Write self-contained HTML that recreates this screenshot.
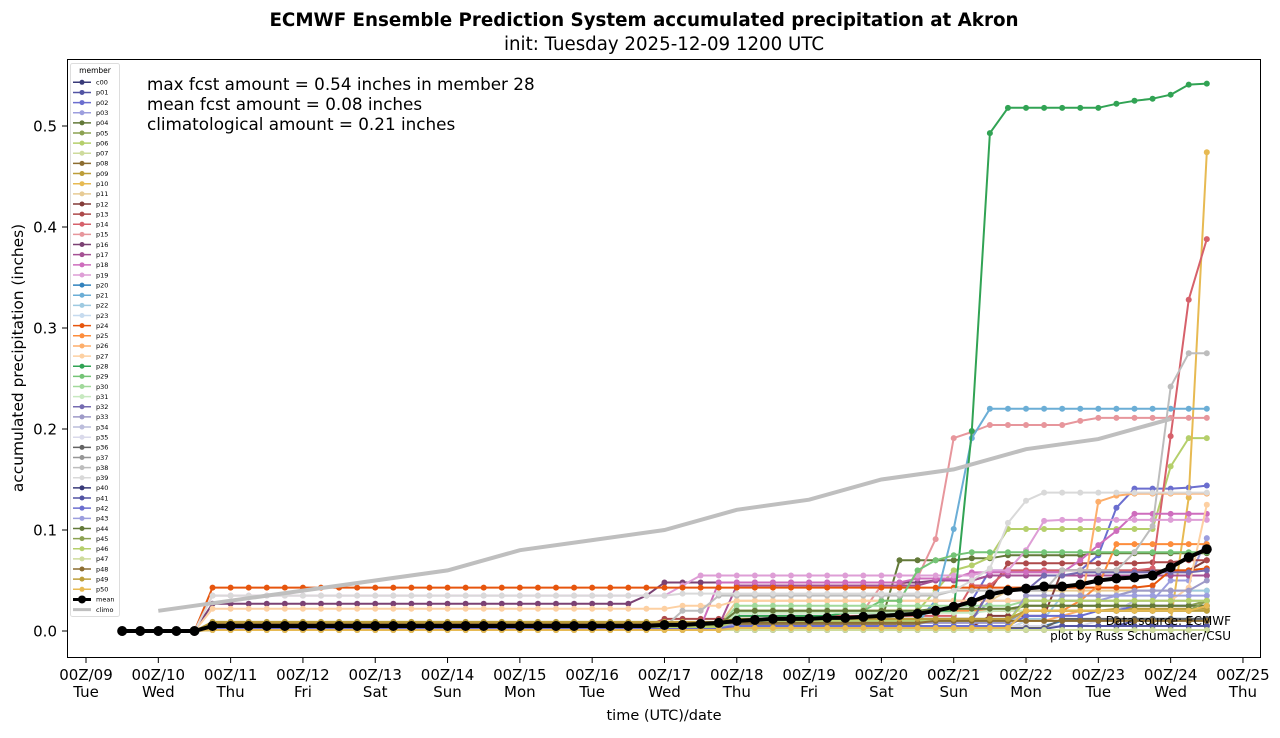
<!DOCTYPE html>
<html><head><meta charset="utf-8"><style>
body{margin:0;background:#fff;font-family:"Liberation Sans","DejaVu Sans",sans-serif;}
svg text{font-family:"DejaVu Sans","Liberation Sans",sans-serif;}
</style></head><body>
<svg id="chart" width="1280" height="733" xmlns="http://www.w3.org/2000/svg">
<rect width="1280" height="733" fill="#fff"/>
<text x="644" y="26" text-anchor="middle" font-size="18.3" font-weight="bold">ECMWF Ensemble Prediction System accumulated precipitation at Akron</text>
<text x="664" y="50" text-anchor="middle" font-size="18.2">init: Tuesday 2025-12-09 1200 UTC</text>
<text transform="translate(23,358) rotate(-90)" text-anchor="middle" font-size="15.4">accumulated precipitation (inches)</text>
<text x="664" y="720" text-anchor="middle" font-size="14.5">time (UTC)/date</text>
<g id="axes"></g>
<g id="plot"></g>
<rect x="67.5" y="59.5" width="1193" height="598" fill="none" stroke="#000" stroke-width="1"/>
<text x="147" y="90" font-size="16.8">max fcst amount = 0.54 inches in member 28</text>
<text x="147" y="110" font-size="16.8">mean fcst amount = 0.08 inches</text>
<text x="147" y="130" font-size="16.8">climatological amount = 0.21 inches</text>
<text x="1231" y="625" text-anchor="end" font-size="12">Data source: ECMWF</text>
<text x="1231" y="640" text-anchor="end" font-size="12">plot by Russ Schumacher/CSU</text>
<g id="legend"></g>
</svg>
<script>
const memberNames=["c00","p01","p02","p03","p04","p05","p06","p07","p08","p09","p10","p11","p12","p13","p14","p15","p16","p17","p18","p19","p20","p21","p22","p23","p24","p25","p26","p27","p28","p29","p30","p31","p32","p33","p34","p35","p36","p37","p38","p39","p40","p41","p42","p43","p44","p45","p46","p47","p48","p49","p50"];
const memberColors=["#393b79","#5254a3","#6b6ecf","#9c9ede","#637939","#8ca252","#b5cf6b","#cedb9c","#8c6d31","#bd9e39","#e7ba52","#e7cb94","#843c39","#ad494a","#d6616b","#e7969c","#7b4173","#a55194","#ce6dbd","#de9ed6","#3182bd","#6baed6","#9ecae1","#c6dbef","#e6550d","#fd8d3c","#fdae6b","#fdd0a2","#31a354","#74c476","#a1d99b","#c7e9c0","#756bb1","#9e9ac8","#bcbddc","#dadaeb","#636363","#969696","#bdbdbd","#d9d9d9","#393b79","#5254a3","#6b6ecf","#9c9ede","#637939","#8ca252","#b5cf6b","#cedb9c","#8c6d31","#bd9e39","#e7ba52"];
// change points [stepIndex, value]; value holds until next change
const memberChanges=[
[[5,0.003],[34,0.004],[46,0.005]],
[[5,0.002],[48,0.005],[56,0.01]],
[[5,0.004],[34,0.01],[45,0.03],[48,0.06],[54,0.075],[55,0.122],[56,0.141],[59,0.142],[60,0.144]],
[[5,0.002],[34,0.012],[48,0.03],[58,0.05],[60,0.092]],
[[5,0.006],[34,0.01],[43,0.07],[47,0.072],[49,0.075],[54,0.077]],
[[5,0.004],[34,0.02],[50,0.025],[60,0.03]],
[[5,0.005],[34,0.02],[45,0.04],[46,0.06],[47,0.065],[48,0.073],[49,0.101],[58,0.163],[59,0.191]],
[[5,0.001]],
[[5,0.007],[45,0.01],[50,0.02]],
[[5,0.008],[34,0.01],[50,0.02],[55,0.022]],
[[5,0.001],[34,0.002],[50,0.01],[59,0.132],[60,0.474]],
[[5,0.005],[34,0.03],[49,0.04]],
[[5,0.004],[48,0.015],[52,0.06],[60,0.07]],
[[5,0.005],[30,0.012],[48,0.04],[49,0.067],[57,0.068],[59,0.07]],
[[5,0.004],[34,0.015],[47,0.045],[49,0.06],[57,0.062],[58,0.193],[59,0.328],[60,0.388]],
[[5,0.004],[34,0.02],[42,0.045],[44,0.053],[45,0.091],[46,0.191],[47,0.197],[48,0.204],[53,0.208],[54,0.211]],
[[5,0.027],[29,0.035],[30,0.048],[45,0.05],[48,0.055]],
[[5,0.005],[34,0.045],[45,0.05],[48,0.055]],
[[5,0.004],[33,0.048],[44,0.052],[47,0.058],[53,0.07],[54,0.085],[55,0.099],[56,0.116]],
[[5,0.035],[31,0.045],[32,0.055],[48,0.06],[50,0.08],[51,0.109],[52,0.11]],
[[5,0.003],[34,0.005],[52,0.01],[56,0.012]],
[[5,0.003],[34,0.008],[45,0.03],[46,0.101],[47,0.191],[48,0.22]],
[[5,0.004],[34,0.012],[52,0.035],[56,0.04]],
[[5,0.002],[50,0.01]],
[[5,0.043],[57,0.045],[58,0.06],[60,0.062]],
[[5,0.003],[34,0.02],[53,0.03],[54,0.045],[55,0.086]],
[[5,0.002],[34,0.01],[52,0.015],[53,0.02],[54,0.128],[55,0.134],[56,0.136]],
[[5,0.022],[31,0.025],[34,0.03],[59,0.043],[60,0.125]],
[[5,0.004],[34,0.015],[40,0.018],[46,0.02],[47,0.198],[48,0.493],[49,0.518],[55,0.522],[56,0.525],[57,0.527],[58,0.531],[59,0.541],[60,0.542]],
[[5,0.003],[34,0.02],[42,0.03],[44,0.06],[45,0.07],[46,0.075],[47,0.078]],
[[5,0.004],[34,0.025],[50,0.03]],
[[5,0.002],[34,0.018],[48,0.02]],
[[5,0.004],[34,0.01],[48,0.04],[51,0.055],[53,0.058],[60,0.06]],
[[5,0.003],[34,0.008],[50,0.035],[56,0.04],[60,0.05]],
[[5,0.003],[34,0.005],[50,0.02],[56,0.03]],
[[5,0.002],[34,0.005],[54,0.01]],
[[5,0.003],[52,0.012]],
[[5,0.004],[34,0.01],[50,0.02],[60,0.025]],
[[5,0.004],[31,0.02],[33,0.035],[46,0.04],[52,0.06],[56,0.078],[57,0.104],[58,0.242],[59,0.275]],
[[5,0.035],[31,0.037],[46,0.04],[47,0.05],[48,0.062],[49,0.107],[50,0.129],[51,0.137]],
[[5,0.001]],
[[5,0.002],[52,0.005]],
[[5,0.003],[34,0.005],[50,0.015],[54,0.02],[56,0.025]],
[[5,0.004],[34,0.01],[50,0.03],[55,0.035]],
[[5,0.006],[34,0.02],[45,0.022],[50,0.025]],
[[5,0.005],[34,0.012],[50,0.02],[60,0.03]],
[[5,0.004],[34,0.01],[50,0.03]],
[[5,0.001]],
[[5,0.008],[45,0.01]],
[[5,0.009],[34,0.012],[50,0.02]],
[[5,0.001],[34,0.003],[50,0.02],[60,0.025]]
];
const meanValues=[0,0,0,0,0,0.005,0.005,0.005,0.005,0.005,0.005,0.005,0.005,0.005,0.005,0.005,0.005,0.005,0.005,0.005,0.005,0.005,0.005,0.005,0.005,0.005,0.005,0.005,0.005,0.005,0.006,0.006,0.007,0.008,0.010,0.011,0.012,0.012,0.012,0.013,0.013,0.014,0.015,0.016,0.017,0.020,0.024,0.029,0.036,0.040,0.042,0.044,0.044,0.046,0.050,0.052,0.053,0.055,0.063,0.073,0.081];
const climoDays=[10,11,12,13,14,15,16,17,18,19,20,21,22,23,24];
const climoValues=[0.02,0.03,0.04,0.05,0.06,0.08,0.09,0.10,0.12,0.13,0.15,0.16,0.18,0.19,0.21];
const xTickDays=[9,10,11,12,13,14,15,16,17,18,19,20,21,22,23,24,25];
const xTickWeekdays=["Tue","Wed","Thu","Fri","Sat","Sun","Mon","Tue","Wed","Thu","Fri","Sat","Sun","Mon","Tue","Wed","Thu"];
const yTicks=[0.0,0.1,0.2,0.3,0.4,0.5];
const nSteps=61;

const NS="http://www.w3.org/2000/svg";
const xDay=d=>86+(d-9)*72.31;            // day number (00Z) -> px
const xStep=i=>xDay(9.5+i*0.25);          // 6h step from 12Z/09
const yVal=v=>631-v*1010;
function mk(tag,attrs,parent){const e=document.createElementNS(NS,tag);for(const k in attrs)e.setAttribute(k,attrs[k]);parent.appendChild(e);return e;}
const axes=document.getElementById('axes'),plot=document.getElementById('plot'),leg=document.getElementById('legend');

xTickDays.forEach((d,k)=>{const x=xDay(d);
 const t=mk('line',{x1:x,x2:x,y1:658,y2:663,stroke:'#000'},axes);
 
 
 const l=mk('text',{x:x,y:680,'text-anchor':'middle','font-size':'15'},axes);
 
 
 l.textContent='00Z/'+String(d).padStart(2,'0');
 const w=mk('text',{x:x,y:697,'text-anchor':'middle','font-size':'15'},axes);
 
 
 w.textContent=xTickWeekdays[k];});
yTicks.forEach(v=>{const y=yVal(v);
 const t=mk('line',{x1:62,x2:67,y1:y,y2:y,stroke:'#000'},axes);
 
 
 const l=mk('text',{x:57,y:y+5.5,'text-anchor':'end','font-size':'15'},axes);
 
 
 l.textContent=v.toFixed(1);});

function expand(ch){const a=new Array(nSteps).fill(0);let v=0,j=0;for(let i=0;i<nSteps;i++){while(j<ch.length&&ch[j][0]<=i){v=ch[j][1];j++;}a[i]=v;}return a;}
function series(vals,color,lw,r,name){const g=mk('g',{},plot);
 
 
 mk('polyline',{points:vals.map((v,i)=>xStep(i).toFixed(1)+','+yVal(v).toFixed(1)).join(' '),fill:'none',stroke:color,'stroke-width':lw,'stroke-linejoin':'round'},g);
 vals.forEach((v,i)=>mk('circle',{cx:xStep(i),cy:yVal(v),r:r,fill:color},g));}
memberChanges.forEach((ch,k)=>series(expand(ch),memberColors[k],2,3,'series-'+memberNames[k]));
const cg=mk('polyline',{points:climoDays.map((d,i)=>xDay(d).toFixed(1)+','+yVal(climoValues[i]).toFixed(1)).join(' '),fill:'none',stroke:'#bfbfbf','stroke-width':4},plot);


series(meanValues,'#000',4,5,'series-mean');

// legend
const lb=mk('rect',{x:70.5,y:63.5,width:49,height:553,fill:'#fff','fill-opacity':0.8,stroke:'#ddd',rx:2},leg);


const lt=mk('text',{x:95,y:73,'text-anchor':'middle','font-size':'7.5'},leg);lt.textContent='member';


const entries=memberNames.map((n,k)=>[n,memberColors[k],1.5,2.5]).concat([['mean','#000',3,4],['climo','#bfbfbf',3,0]]);
entries.forEach((e,k)=>{const y=82.3+k*10.14;const g=mk('g',{},leg);
 
 
 mk('line',{x1:73,x2:91,y1:y,y2:y,stroke:e[1],'stroke-width':e[2]},g);
 if(e[3])mk('circle',{cx:82,cy:y,r:e[3],fill:e[1]},g);
 const t=mk('text',{x:96,y:y+2.3,'font-size':'6.5'},g);t.textContent=e[0];});
</script>
</body></html>
